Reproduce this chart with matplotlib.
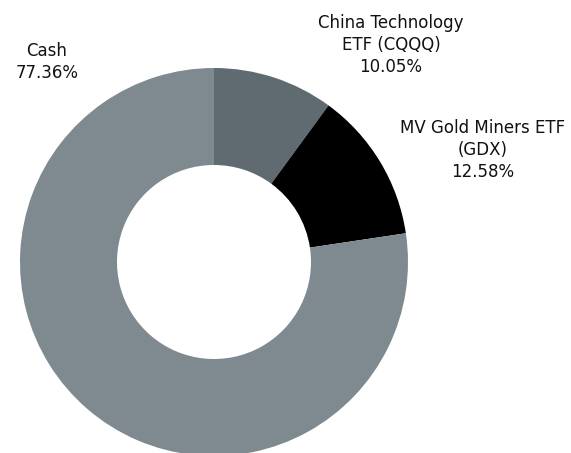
import os
os.environ['MPLBACKEND'] = 'Agg'

import matplotlib.pyplot as plt

# holdings, clockwise from 12 o'clock
labels = ['China Technology\nETF (CQQQ)', 'MV Gold Miners ETF\n(GDX)', 'Cash']
shares = [10.05, 12.58, 77.36]
colors = ['#5f6b70', '#000000', '#7f8a90']

# label anchor points in pixels (x, y from top)
label_pos = [(391, 45), (483, 150), (47, 62)]

W, H = 571, 453
fig = plt.figure(figsize=(W / 100, H / 100), dpi=100)
ax = fig.add_axes([0, 0, 1, 1])

ax.pie(shares, colors=colors, startangle=90, counterclock=False,
       center=(214, H - 262), radius=194,
       wedgeprops={'width': 97, 'edgecolor': 'none'}, frame=True)
ax.set_xlim(0, W)
ax.set_ylim(0, H)
ax.set_aspect('equal')
ax.axis('off')

for lab, val, (x, y) in zip(labels, shares, label_pos):
    ax.text(x, H - y, f'{lab}\n{val:.2f}%', ha='center', va='center',
            fontsize=12, family='DejaVu Sans', color='#111111',
            linespacing=1.3)

fig.savefig('out.png', dpi=100)
